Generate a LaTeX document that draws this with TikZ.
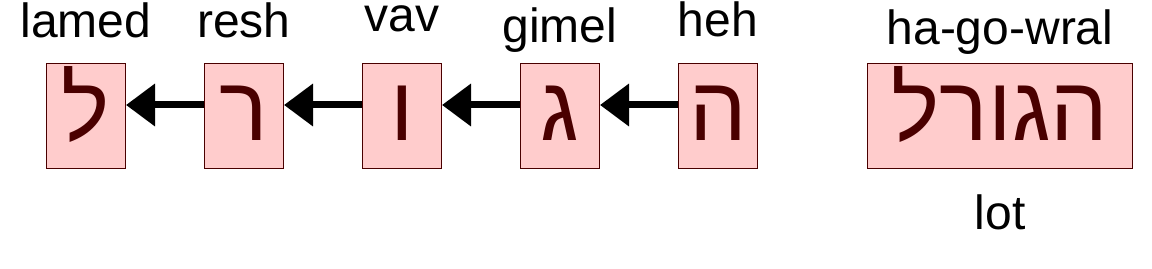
\documentclass[tikz,border=0pt]{standalone}
\usepackage{fontspec}
\setmainfont{Liberation Sans}
\newfontfamily\hebfont[Script=Hebrew]{Liberation Sans}
\TeXXeTstate=1
\usetikzlibrary{arrows.meta,positioning}
\definecolor{boxfill}{HTML}{FFCCCC}
\definecolor{ink}{HTML}{4A0000}

\begin{document}
\begin{tikzpicture}[x=1pt,y=1pt,node distance=78pt]
  \tikzstyle{letter}=[draw=ink,fill=boxfill,line width=1pt,minimum width=79pt,minimum height=105pt,inner sep=0pt,text height=48.4pt,text depth=0pt,text=ink,font=\hebfont\fontsize{91}{91}\selectfont]
  \tikzstyle{lbl}=[anchor=base,font=\fontsize{48}{48}\selectfont,inner sep=0pt]
  \tikzstyle{link}=[line width=7pt,-{Triangle[length=29pt,width=41pt]}]
  \useasboundingbox (0,0) rectangle (1152,268);
  \node[letter] (lamed) at (86,152) {\beginR ל\endR};
  \node[letter,right=of lamed] (resh) {\beginR ר\endR};
  \node[letter,right=of resh] (vav) {\beginR ו\endR};
  \node[letter,right=of vav] (gimel) {\beginR ג\endR};
  \node[letter,right=of gimel] (heh) {\beginR ה\endR};
  \node[letter,minimum width=265pt] (word) at (1000,152) {\beginR הגורל\endR};
  % names of the letters
  \node[lbl] (lamedname) at (86,230) {lamed};
  \node[lbl] (reshname) at (244,230) {resh};
  \node[lbl] (vavname) at (402,236) {vav};
  \node[lbl] (gimelname) at (560,225) {gimel};
  \node[lbl] (hehname) at (718,231) {heh};
  \node[lbl] (wordname) at (1000,223) {ha-go-wral};
  \node[lbl] (wordmeaning) at (1000,38) {lot};
  % chain of letters, right to left
  \draw[link] ([yshift=11pt]heh.west) -- ([yshift=11pt]gimel.east);
  \draw[link] ([yshift=11pt]gimel.west) -- ([yshift=11pt]vav.east);
  \draw[link] ([yshift=11pt]vav.west) -- ([yshift=11pt]resh.east);
  \draw[link] ([yshift=11pt]resh.west) -- ([yshift=11pt]lamed.east);
\end{tikzpicture}
\end{document}
